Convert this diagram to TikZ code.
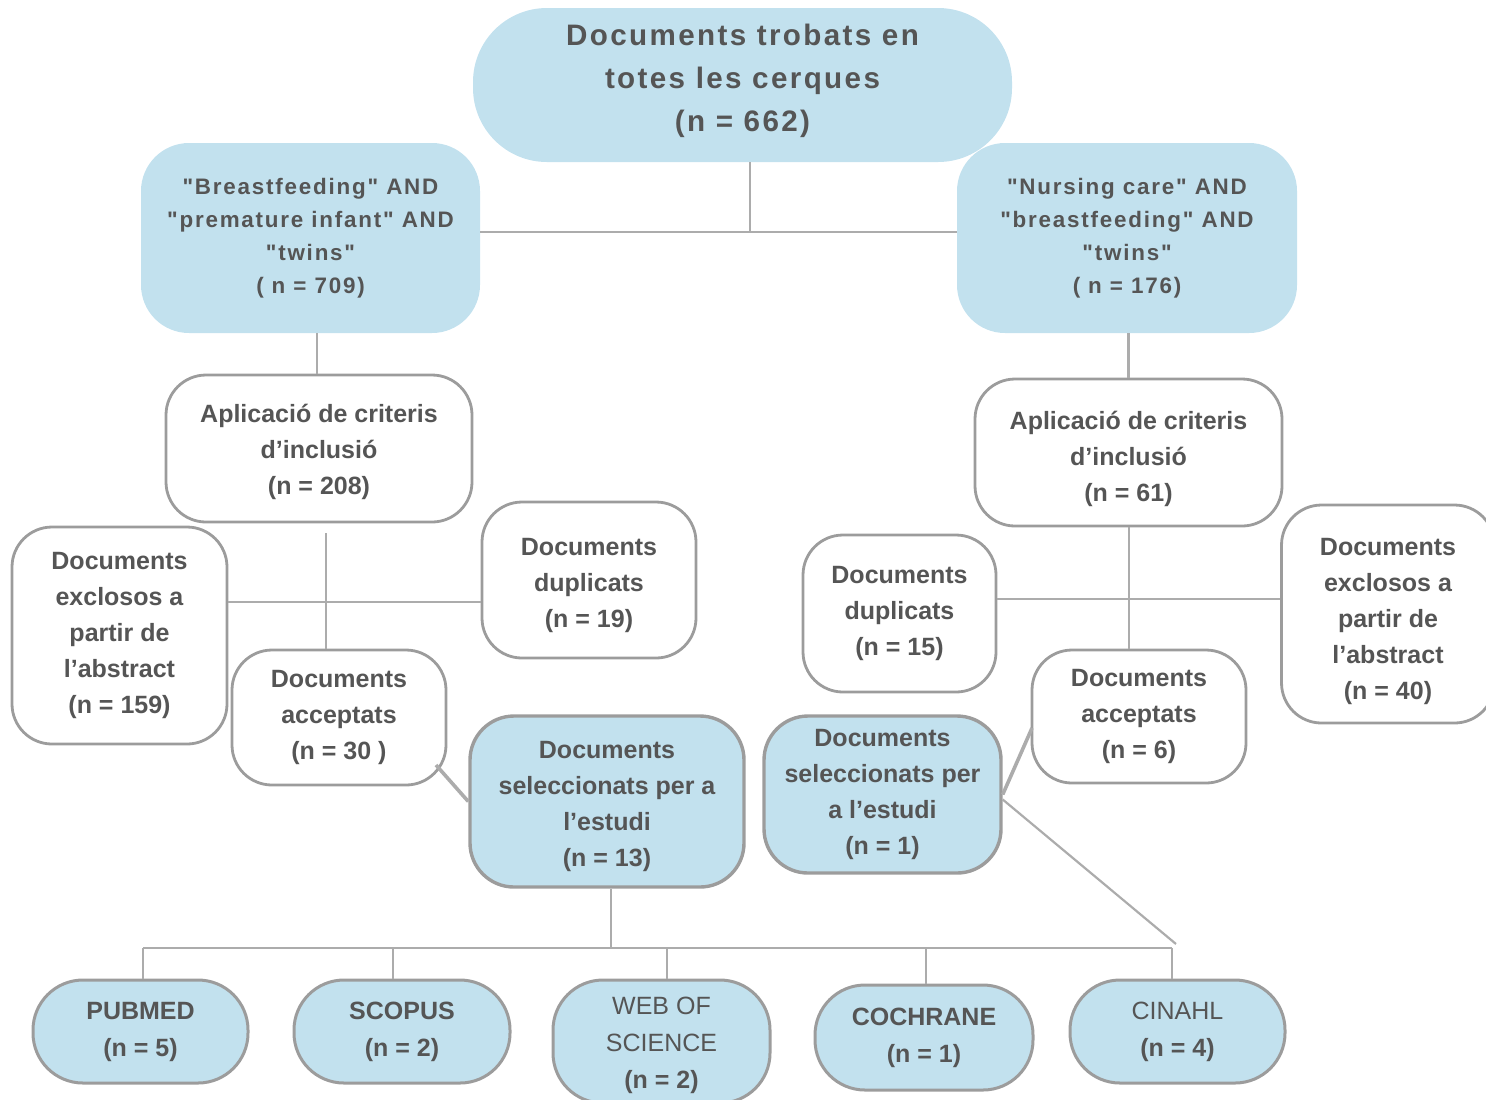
\documentclass[tikz,border=0pt]{standalone}
\usepackage{fontspec}
\setmainfont{Liberation Sans}
\newfontfamily\spacedsans{Liberation Sans}[LetterSpace=8]
\definecolor{boxblue}{RGB}{194,225,238}
\definecolor{edgegray}{RGB}{156,156,156}
\definecolor{linegray}{RGB}{172,172,172}
\definecolor{txtgray}{RGB}{85,85,85}
\tikzset{
  box/.style={rectangle, inner sep=0pt, align=center, text=txtgray},
  dimw/.style={minimum width=#1*0.5pt},
  dimh/.style={minimum height=#1*0.5pt},
  topbox/.style={box, fill=boxblue, rounded corners=37pt,
    font=\spacedsans\bfseries\fontsize{14.8}{21.5}\selectfont},
  searchbox/.style={box, fill=boxblue, rounded corners=24pt,
    font=\spacedsans\bfseries\fontsize{11.2}{16.5}\selectfont},
  whitebox/.style={box, fill=white, draw=edgegray, line width=1.4pt, rounded corners=20pt,
    font=\bfseries\fontsize{12.5}{18}\selectfont},
  selbox/.style={box, fill=boxblue, draw=edgegray, line width=1.7pt, rounded corners=22pt,
    font=\bfseries\fontsize{12.5}{18}\selectfont},
  dbbox/.style={box, fill=boxblue, draw=edgegray, line width=1.5pt, rounded corners=25pt,
    font=\bfseries\fontsize{12.5}{18.5}\selectfont},
  link/.style={draw=linegray, line width=1.1pt},
  thicklink/.style={draw=linegray, line width=1.8pt}
}
% stacked lines, moved up (or down) inside their box without changing its size
\newcommand\liftlines[2]{%
  \setbox0=\hbox{\begin{tabular}{@{}c@{}}#2\end{tabular}}%
  \raisebox{#1}[\dimexpr\ht0-#1\relax][\dimexpr\dp0+#1\relax]{\copy0}}
\begin{document}
\begin{tikzpicture}[x=0.5pt,y=-0.5pt]
\useasboundingbox (0,0) rectangle (1486,1099);

% searches
\node[topbox, dimw=539, dimh=154] (top) at (742.5,85)
  {\liftlines{1.25pt}{Documents trobats en\\totes les cerques\\(n = 662)}};
\node[searchbox, dimw=339, dimh=190] (lsearch) at (310.5,238)
  {"Breastfeeding" AND\\"premature infant" AND\\"twins"\\( n = 709)};
\node[searchbox, dimw=340, dimh=190] (rsearch) at (1127,238)
  {"Nursing care" AND\\"breastfeeding" AND\\"twins"\\( n = 176)};

% left branch
\node[whitebox, dimw=306, dimh=147] (lcrit) at (319,448.5)
  {\liftlines{-0.75pt}{Aplicació de criteris\\d'inclusió\\(n = 208)}};
\node[whitebox, dimw=215, dimh=217] (lexcl) at (119.5,635.5)
  {Documents\\exclosos a\\partir de\\l'abstract\\(n = 159)};
\node[whitebox, dimw=214, dimh=156] (ldup) at (589,580)
  {\liftlines{-1pt}{Documents\\duplicats\\(n = 19)}};
\node[whitebox, dimw=214, dimh=135] (lacc) at (339,717.5)
  {Documents\\acceptats\\(n = 30 )};
\node[selbox, dimw=274, dimh=171] (lsel) at (607,801.5)
  {\liftlines{-1pt}{Documents\\seleccionats per a\\l'estudi\\(n = 13)}};

% right branch
\node[whitebox, dimw=307, dimh=147] (rcrit) at (1128.5,452.5)
  {\liftlines{-1.5pt}{Aplicació de criteris\\d'inclusió\\(n = 61)}};
\node[whitebox, dimw=193, dimh=157] (rdup) at (899.5,613.5)
  {Documents\\duplicats\\(n = 15)};
\node[whitebox, dimw=213, dimh=218] (rexcl) at (1388,614)
  {\liftlines{-1.5pt}{Documents\\exclosos a\\partir de\\l'abstract\\(n = 40)}};
\node[whitebox, dimw=214, dimh=133] (racc) at (1139,716.5)
  {Documents\\acceptats\\(n = 6)};
\node[selbox, dimw=237, dimh=157] (rsel) at (882.5,794.5)
  {Documents\\seleccionats per\\a l'estudi\\(n = 1)};

% databases
\node[dbbox, dimw=215, dimh=103] (pub) at (140.5,1031.5) {PUBMED\\(n = 5)};
\node[dbbox, dimw=216, dimh=103] (sco) at (402,1031.5) {SCOPUS\\(n = 2)};
\node[dbbox, dimw=217, dimh=123] (wos) at (661.5,1041.5)
  {\liftlines{-0.75pt}{\mdseries WEB OF\\\mdseries SCIENCE\\(n = 2)}};
\node[dbbox, dimw=218, dimh=105] (coc) at (924,1037.5) {COCHRANE\\(n = 1)};
\node[dbbox, dimw=215, dimh=103] (cin) at (1177.5,1031.5) {\mdseries CINAHL\\(n = 4)};

% junction points
\coordinate (jt) at (750,232);
\coordinate (ja) at (317,340);
\coordinate (jltop) at (326,533);
\coordinate (jl) at (326,602);
\coordinate (jr) at (1129,599);
\coordinate (ka) at (436,765);
\coordinate (kb) at (1032,728);
\coordinate (kc) at (1176,944);
\coordinate (bs) at (611,948);
\coordinate (d1) at (143,948);
\coordinate (d2) at (393,948);
\coordinate (d3) at (667,948);
\coordinate (d4) at (926,948);
\coordinate (d5) at (1172,948);

% top connectors
\draw[link] (top.south -| jt) -- (jt);
\draw[link] (lsearch.east |- jt) -- (rsearch.west |- jt);
\draw[link] (lsearch.south -| ja) -- (lcrit.north -| ja);
\draw[link] (rsearch.south -| rcrit.north) -- (rcrit.north);

% left branch connectors
\draw[link] (jltop) -- (lacc.north -| jl);
\draw[link] (lexcl.east |- jl) -- (ldup.west |- jl);
\draw[thicklink] (ka) -- (lsel.west);

% right branch connectors
\draw[link] (rcrit.south -| jr) -- (racc.north -| jr);
\draw[link] (rdup.east |- jr) -- (rexcl.west |- jr);
\draw[thicklink] (kb) -- (rsel.east);
\draw[link] ([yshift=-2.5pt]rsel.east) -- (kc);

% database bus
\draw[link] (lsel.south -| bs) -- (bs);
\draw[link] (d1) -- (d5);
\draw[link] (d1) -- (pub.north -| d1);
\draw[link] (d2) -- (sco.north -| d2);
\draw[link] (d3) -- (wos.north -| d3);
\draw[link] (d4) -- (coc.north -| d4);
\draw[link] (d5) -- (cin.north -| d5);
\end{tikzpicture}
\end{document}
